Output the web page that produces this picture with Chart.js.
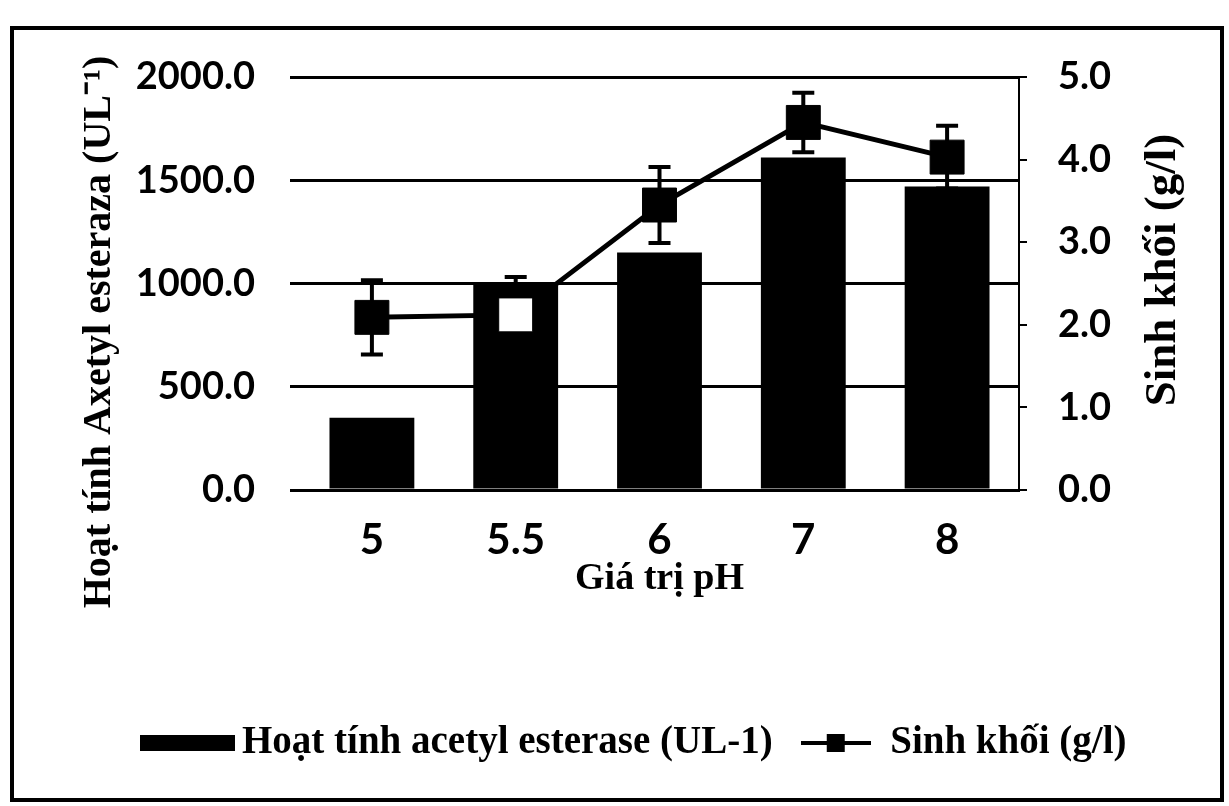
<!DOCTYPE html>
<html>
<head>
<meta charset="utf-8">
<script src="https://cdn.jsdelivr.net/npm/chart.js@4.4.0/dist/chart.umd.min.js"></script>
<style>
  html, body { margin: 0; padding: 0; background: #fff; }
</style>
</head>
<body>
<canvas id="chart" width="1229" height="806"></canvas>
<script>
// pH values on the x axis
const phLabels = ['5', '5.5', '6', '7', '8'];
// acetyl esterase activity (UL-1), left axis
const enzymeActivity = [350, 1005, 1150, 1610, 1470];
// biomass (g/l), right axis, with its error bars
const biomass = [2.09, 2.12, 3.45, 4.45, 4.03];
const biomassErr = [0.45, 0.46, 0.46, 0.36, 0.38];
// fill of the square markers (the one at pH 5.5 is hollow)
const markerFill = ['#000', '#fff', '#000', '#000', '#000'];

const tickFont = {family: 'Lato', size: 38, weight: 'bold'};
const serifFont = 'Liberation Serif';

// legend swatches
function barSwatch() {
  const c = document.createElement('canvas');
  c.width = 95; c.height = 16;
  const g = c.getContext('2d');
  g.fillStyle = '#000';
  g.fillRect(0, 0, 95, 16);
  return c;
}
function lineSwatch() {
  const c = document.createElement('canvas');
  c.width = 70; c.height = 22;
  const g = c.getContext('2d');
  g.strokeStyle = '#000';
  g.lineWidth = 4;
  g.beginPath(); g.moveTo(0, 11); g.lineTo(70, 11); g.stroke();
  g.fillStyle = '#000';
  g.fillRect(26, 2, 18, 18);
  return c;
}

// error bars of the biomass line, drawn after the bars but under the markers
const errorBars = {
  id: 'errorBars',
  afterDatasetDraw(chart, args) {
    if (args.index !== 0) return;
    const meta = chart.getDatasetMeta(1);
    const y1 = chart.scales.y1;
    const ctx = chart.ctx;
    ctx.save();
    ctx.strokeStyle = '#000';
    ctx.lineWidth = 4;
    meta.data.forEach((pt, i) => {
      const top = y1.getPixelForValue(biomass[i] + biomassErr[i]);
      const bot = y1.getPixelForValue(biomass[i] - biomassErr[i]);
      ctx.beginPath();
      ctx.moveTo(pt.x, top); ctx.lineTo(pt.x, bot);
      ctx.moveTo(pt.x - 11, top); ctx.lineTo(pt.x + 11, top);
      ctx.moveTo(pt.x - 11, bot); ctx.lineTo(pt.x + 11, bot);
      ctx.stroke();
    });
    ctx.restore();
  }
};

// white page, outer frame and the two rotated axis titles
const frame = {
  id: 'frame',
  beforeDraw(chart) {
    const ctx = chart.ctx;
    ctx.save();
    ctx.fillStyle = '#fff';
    ctx.fillRect(0, 0, chart.width, chart.height);
    ctx.strokeStyle = '#000';
    ctx.lineWidth = 4;
    ctx.strokeRect(12, 28, 1210, 772);
    ctx.restore();
  },
  afterDraw(chart) {
    const ctx = chart.ctx;
    ctx.save();
    ctx.fillStyle = '#000';
    ctx.textAlign = 'center';
    ctx.textBaseline = 'middle';
    ctx.font = 'bold 40px ' + serifFont;
    ctx.translate(100, 332);
    ctx.rotate(-Math.PI / 2);
    ctx.fillText('Hoạt tính Axetyl esteraza (UL⁻¹)', 0, 0);
    ctx.restore();
    ctx.save();
    ctx.fillStyle = '#000';
    ctx.textAlign = 'center';
    ctx.textBaseline = 'middle';
    ctx.font = 'bold 45px ' + serifFont;
    ctx.translate(1163, 270);
    ctx.rotate(-Math.PI / 2);
    ctx.fillText('Sinh khối (g/l)', 0, 0);
    ctx.restore();
  }
};

Chart.defaults.color = '#000';

new Chart(document.getElementById('chart'), {
  data: {
    labels: phLabels,
    datasets: [
      {
        type: 'bar',
        label: 'Hoạt tính acetyl esterase (UL-1)',
        data: enzymeActivity,
        backgroundColor: '#000',
        barPercentage: 0.59,
        categoryPercentage: 1.0,
        yAxisID: 'y',
        order: 1
      },
      {
        type: 'line',
        label: 'Sinh khối (g/l)',
        data: biomass,
        borderColor: '#000',
        borderWidth: 5,
        pointStyle: 'rect',
        pointRadius: 24,
        pointBackgroundColor: markerFill,
        pointBorderColor: '#000',
        pointBorderWidth: 1,
        tension: 0,
        yAxisID: 'y1',
        order: 0
      }
    ]
  },
  options: {
    responsive: false,
    animation: false,
    devicePixelRatio: 1,
    layout: {padding: {left: 70, right: 20, top: 77, bottom: 33.5}},
    plugins: {
      tooltip: {enabled: false},
      legend: {
        position: 'bottom',
        labels: {
          usePointStyle: true,
          pointStyleWidth: 70,
          padding: 28,
          color: '#000',
          font: {family: serifFont, size: 39, weight: 'bold'},
          sort: (a, b) => a.datasetIndex - b.datasetIndex,
          generateLabels(chart) {
            const items = Chart.defaults.plugins.legend.labels.generateLabels(chart);
            items.forEach(it => {
              it.pointStyle = it.datasetIndex === 0 ? barSwatch() : lineSwatch();
            });
            return items;
          }
        }
      }
    },
    scales: {
      x: {
        grid: {display: false, drawTicks: false},
        border: {color: '#000', width: 3},
        ticks: {font: {family: 'Lato', size: 42, weight: 'bold'}, color: '#000', padding: 25},
        title: {
          display: true,
          text: 'Giá trị pH',
          color: '#000',
          font: {family: serifFont, size: 38, weight: 'bold'},
          padding: {top: 0, bottom: 94}
        },
        afterFit(s) { s.height = 205.5; }
      },
      y: {
        position: 'left',
        min: 0,
        max: 2000,
        ticks: {stepSize: 500, callback: v => v.toFixed(1), font: tickFont, color: '#000', padding: 35},
        grid: {color: '#000', lineWidth: 3, tickLength: 10},
        border: {display: false},
        afterFit(s) { s.width = 230; }
      },
      y1: {
        position: 'right',
        min: 0,
        max: 5,
        ticks: {stepSize: 1, callback: v => v.toFixed(1), font: tickFont, color: '#000', padding: 31},
        grid: {drawOnChartArea: false, color: '#000', lineWidth: 2, tickLength: 8},
        border: {display: true, color: '#000', width: 2},
        afterFit(s) { s.width = 190; }
      }
    }
  },
  plugins: [errorBars, frame]
});
</script>
</body>
</html>
